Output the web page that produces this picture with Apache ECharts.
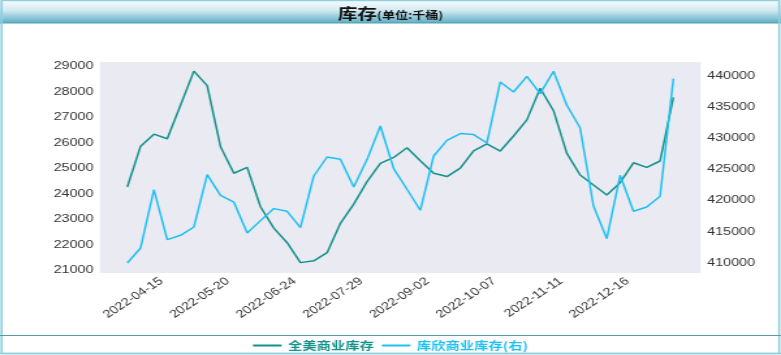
<!DOCTYPE html>
<html><head><meta charset="utf-8">
<script src="https://cdn.jsdelivr.net/npm/echarts@6/dist/echarts.min.js"></script>
<style>
html,body{margin:0;padding:0;background:#fff;overflow:hidden;}
#wrap{width:781px;height:355px;overflow:hidden;position:relative;}
#chart{width:600px;height:355px;transform:scaleX(1.30167);transform-origin:0 0;}
</style></head><body>
<div id="wrap"><div id="chart"></div></div>
<script>
const dates = ['2022-03-25','2022-04-01','2022-04-08','2022-04-15','2022-04-22','2022-04-29','2022-05-06','2022-05-13','2022-05-20','2022-05-27',
'2022-06-03','2022-06-10','2022-06-17','2022-06-24','2022-07-01','2022-07-08','2022-07-15','2022-07-22','2022-07-29','2022-08-05',
'2022-08-12','2022-08-19','2022-08-26','2022-09-02','2022-09-09','2022-09-16','2022-09-23','2022-09-30','2022-10-07','2022-10-14',
'2022-10-21','2022-10-28','2022-11-04','2022-11-11','2022-11-18','2022-11-25','2022-12-02','2022-12-09','2022-12-16','2022-12-23',
'2022-12-30','2023-01-06'];
const usCommercial = [24260,25860,26330,26150,27470,28800,28230,25840,24800,25030,
23490,22650,22080,21300,21370,21690,22840,23590,24470,25190,
25420,25800,25290,24800,24670,25000,25680,25950,25670,26260,
26890,28130,27250,25580,24730,24340,23950,24430,25210,25030,
25280,27770];
const cushingCommercial = [409940,412350,421740,413700,414390,415720,424150,420820,419740,414760,
416750,418680,418250,415630,423920,426980,426610,422150,426560,431960,
425110,421790,418410,427140,429660,430740,430580,429230,439040,437430,
439950,437170,440760,435290,431640,419100,413860,424040,418250,418940,
420660,439580];
const leftTicks = [21000,22000,23000,24000,25000,26000,27000,28000,29000];
const rightTicks = [410000,415000,420000,425000,430000,435000,440000];
const xTickLabels = ['2022-04-15','2022-05-20','2022-06-24','2022-07-29','2022-09-02','2022-10-07','2022-11-11','2022-12-16'];

const seriesNames = ['全美商业库存','库欣商业库存(右)'];
const colors = ['#14918a','#1ec0f2'];

const chart = echarts.init(document.getElementById('chart'), null, {renderer:'canvas'});
const labelFont = {color:'#333', fontSize:11, fontFamily:'"Liberation Sans", Arial, sans-serif'};
const plain = v => String(v);
chart.setOption({
  animation:false,
  title:{
    text:'{a|库存}{b|(单位:千桶)}',
    left:'center', top:1,
    textStyle:{rich:{
      a:{fontSize:15,fontWeight:'bold',color:'#111',fontFamily:'"Noto Sans CJK SC", sans-serif'},
      b:{fontSize:10,fontWeight:'bold',color:'#111',fontFamily:'"Noto Sans CJK SC", sans-serif',padding:[3,0,0,0]}
    }}
  },
  graphic:[
    {type:'rect',z:-1,shape:{x:0,y:0,width:600,height:23},
      style:{fill:new echarts.graphic.LinearGradient(0,0,0,1,[{offset:0,color:'#fbfdfe'},{offset:0.45,color:'#d3eaf1'},{offset:1,color:'#5eaec4'}])}},
    {type:'line',shape:{x1:0,y1:23,x2:600,y2:23},style:{stroke:'#4f9fb5',lineWidth:1}},
    {type:'rect',shape:{x:1.2,y:0.5,width:597.4,height:353},style:{fill:null,stroke:'#8fcfe0',lineWidth:1.6}},
    {type:'line',shape:{x1:0,y1:335.5,x2:600,y2:335.5},style:{stroke:'#5c9aaa',lineWidth:1}},
    {type:'line',shape:{x1:0,y1:353.5,x2:600,y2:353.5},style:{stroke:'#8fcfe0',lineWidth:1.5}}
  ],
  legend:{
    top:335, left:'center', itemWidth:22, itemHeight:2, itemGap:6, icon:'rect',
    textStyle:{fontSize:11,fontWeight:'bold',fontFamily:'"Noto Sans CJK SC", sans-serif'},
    data:seriesNames.map((n,i)=>({name:n,textStyle:{color:colors[i]}}))
  },
  grid:{left:76.8, right:61.7, top:62, bottom:82, show:true, backgroundColor:'#eaeaf2', borderWidth:0},
  xAxis:{
    type:'value', min:-2.05, max:43.05,
    axisLine:{show:false}, axisTick:{show:false}, splitLine:{show:false},
    axisLabel:Object.assign({rotate:40, margin:3, padding:[0,6,0,0], customValues:xTickLabels.map(d=>dates.indexOf(d)),
      formatter:v=>dates[Math.round(v)]}, labelFont)
  },
  yAxis:[
    {type:'value', min:20894, max:29157, position:'left',
      axisLine:{show:false}, axisTick:{show:false}, splitLine:{show:false},
      axisLabel:Object.assign({margin:5, customValues:leftTicks, formatter:plain}, labelFont)},
    {type:'value', min:408328, max:442251, position:'right',
      axisLine:{show:false}, axisTick:{show:false}, splitLine:{show:false},
      axisLabel:Object.assign({margin:5, customValues:rightTicks, formatter:plain}, labelFont)}
  ],
  series:[
    {name:seriesNames[0], type:'line', yAxisIndex:0, showSymbol:false, color:colors[0],
      lineStyle:{width:1.5}, data:usCommercial.map((v,i)=>[i,v])},
    {name:seriesNames[1], type:'line', yAxisIndex:1, showSymbol:false, color:colors[1],
      lineStyle:{width:1.5}, data:cushingCommercial.map((v,i)=>[i,v])}
  ]
});
</script>
</body></html>
